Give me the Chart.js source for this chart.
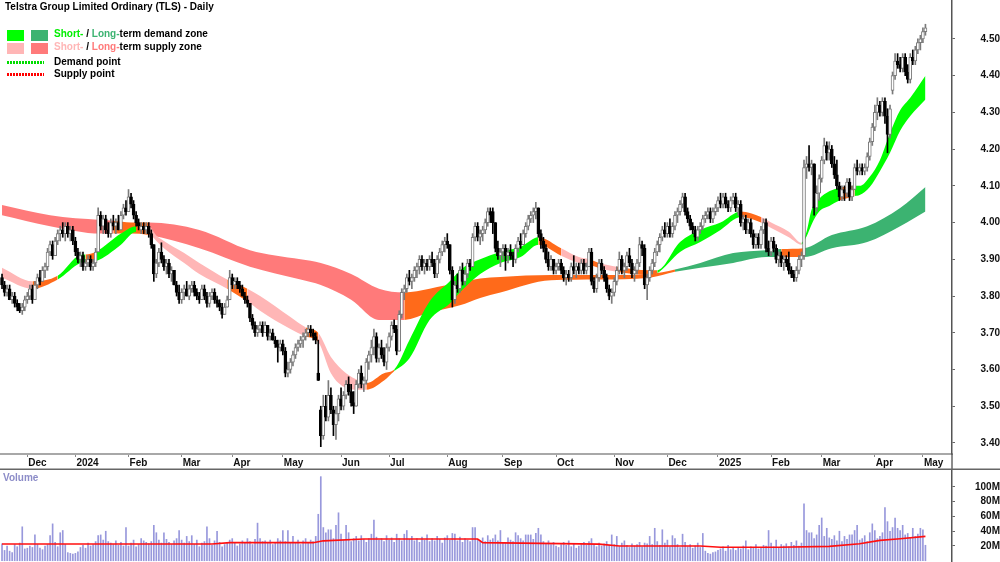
<!DOCTYPE html>
<html><head><meta charset="utf-8">
<script src="https://cdn.jsdelivr.net/npm/chart.js@4.4.1/dist/chart.umd.min.js"></script>
<style>
html,body{margin:0;padding:0;background:#fff;}
#wrap{position:relative;width:1000px;height:562px;overflow:hidden;font-family:"Liberation Sans",Arial,sans-serif;}
#c1{position:absolute;left:0;top:0;}
#c2{position:absolute;left:0;top:470px;}
.t{position:absolute;font-weight:bold;font-size:10px;line-height:12px;white-space:nowrap;color:#000;}
.sw{position:absolute;width:17px;height:11px;}
.dot{position:absolute;width:37px;height:3px;}
</style></head>
<body>
<div id="wrap">
<canvas id="c1" width="1000" height="470"></canvas>
<canvas id="c2" width="1000" height="92"></canvas>
<div class="t" style="left:5px;top:1px;">Telstra Group Limited Ordinary (TLS) - Daily</div>
<div class="sw" style="left:7px;top:30px;background:#00ff00;"></div>
<div class="sw" style="left:31px;top:30px;background:#3cb371;"></div>
<div class="t" style="left:54px;top:28px;"><span style="color:#00ee00">Short-</span> / <span style="color:#3cb371">Long-</span>term demand zone</div>
<div class="sw" style="left:7px;top:43px;background:#ffb6b6;"></div>
<div class="sw" style="left:31px;top:43px;background:#ff7a7a;"></div>
<div class="t" style="left:54px;top:41px;"><span style="color:#ffb6b6">Short-</span> / <span style="color:#ff7a7a">Long-</span>term supply zone</div>
<div class="dot" style="left:7px;top:61px;background:repeating-linear-gradient(90deg,#00dd00 0 2px,transparent 2px 3px);"></div>
<div class="t" style="left:54px;top:56px;">Demand point</div>
<div class="dot" style="left:7px;top:73px;background:repeating-linear-gradient(90deg,#ff0000 0 2px,transparent 2px 3px);"></div>
<div class="t" style="left:54px;top:68px;">Supply point</div>
<div class="t" style="left:3px;top:472px;color:#8c8cc8;">Volume</div>
</div>
<script>
// ---------- data ----------
const monthIdx = [10,29,50,71,91,111,134,153,176,198,219,242,263,283,304,324,345,364];
const monthLbl = ['Dec','2024','Feb','Mar','Apr','May','Jun','Jul','Aug','Sep','Oct','Nov','Dec','2025','Feb','Mar','Apr','May'];
const priceTicks = [3.4,3.5,3.6,3.7,3.8,3.9,4.0,4.1,4.2,4.3,4.4,4.5];
const volTicks = [20,40,60,80,100];

const opens = [
3.85,3.83,3.81,3.82,3.79,3.80,3.78,3.77,3.76,3.77, 3.79,3.80,3.82,3.79,3.83,3.85,3.84,3.87,3.88,3.92,
3.94,3.91,3.95,3.97,3.98,3.97,3.99,3.97,3.98,3.95, 3.92,3.90,3.91,3.88,3.89,3.90,3.88,3.89,3.92,4.02,
3.99,4.01,3.98,3.97,4.00,3.99,4.00,3.98,4.02,4.04, 4.03,4.07,4.05,4.02,4.00,3.98,3.99,3.98,3.99,3.97,
3.94,3.86,3.89,3.92,3.90,3.88,3.89,3.86,3.87,3.83, 3.81,3.79,3.81,3.82,3.80,3.82,3.83,3.81,3.80,3.79,
3.82,3.80,3.78,3.80,3.81,3.79,3.78,3.77,3.75,3.77, 3.79,3.85,3.83,3.84,3.83,3.82,3.80,3.79,3.78,3.74,
3.72,3.70,3.71,3.72,3.70,3.72,3.69,3.70,3.68,3.67, 3.66,3.67,3.65,3.59,3.60,3.62,3.64,3.66,3.67,3.68,
3.69,3.70,3.71,3.70,3.69,3.59,3.49,3.42,3.50,3.47, 3.53,3.49,3.45,3.48,3.52,3.50,3.53,3.56,3.54,3.51,
3.50,3.56,3.59,3.56,3.57,3.62,3.64,3.66,3.69,3.63, 3.66,3.64,3.62,3.66,3.69,3.72,3.71,3.65,3.75,3.81,
3.82,3.85,3.84,3.85,3.87,3.88,3.90,3.88,3.89,3.88, 3.90,3.89,3.86,3.90,3.92,3.94,3.95,3.94,3.87,3.79,
3.83,3.82,3.87,3.84,3.86,3.89,3.88,3.96,3.99,3.96, 3.97,3.98,4.00,4.03,4.03,4.00,3.93,3.91,3.92,3.93,
3.91,3.92,3.91,3.90,3.93,3.95,3.94,3.97,3.99,4.01, 4.02,4.03,4.04,3.97,3.95,3.93,3.90,3.88,3.90,3.87,
3.88,3.89,3.87,3.85,3.86,3.85,3.88,3.87,3.88,3.87, 3.89,3.87,3.88,3.92,3.84,3.82,3.85,3.89,3.87,3.85,
3.82,3.80,3.81,3.84,3.87,3.90,3.87,3.88,3.91,3.89, 3.86,3.87,3.89,3.94,3.93,3.83,3.85,3.87,3.89,3.92,
3.94,3.96,3.98,3.97,3.99,3.97,3.99,4.02,4.03,4.05, 4.07,4.03,4.01,3.99,3.98,3.96,3.98,3.99,4.01,4.02,
4.03,4.01,4.03,4.04,4.06,4.05,4.07,4.05,4.04,4.06, 4.07,4.04,4.05,4.00,4.01,3.98,4.00,3.97,3.94,3.96,
3.94,3.98,4.00,3.93,3.92,3.95,3.93,3.90,3.91,3.89, 3.90,3.89,3.87,3.86,3.85,3.87,3.90,3.91,4.15,4.16,
4.15,4.16,4.04,4.08,4.12,4.17,4.21,4.19,4.20,4.16, 4.13,4.10,4.07,4.09,4.08,4.11,4.07,4.09,4.15,4.14,
4.15,4.14,4.15,4.18,4.22,4.26,4.30,4.32,4.30,4.33, 4.29,4.24,4.36,4.40,4.44,4.43,4.42,4.45,4.41,4.39,
4.45,4.44,4.47,4.49,4.50,4.52];
const highs = [
3.86,3.84,3.83,3.83,3.81,3.81,3.79,3.78,3.78,3.80, 3.81,3.83,3.83,3.84,3.86,3.87,3.88,3.89,3.93,3.95,
3.95,3.96,3.98,3.99,4.00,4.00,4.00,3.99,3.99,3.96, 3.93,3.92,3.92,3.90,3.91,3.91,3.90,3.93,4.04,4.03,
4.02,4.02,4.00,4.01,4.02,4.01,4.02,4.03,4.05,4.06, 4.09,4.08,4.06,4.03,4.01,4.00,4.00,4.00,4.00,3.98,
3.94,3.90,3.93,3.945,3.91,3.90,3.90,3.88,3.87,3.84, 3.83,3.82,3.83,3.84,3.83,3.84,3.84,3.82,3.81,3.83,
3.83,3.81,3.81,3.82,3.82,3.80,3.79,3.78,3.78,3.80, 3.87,3.86,3.85,3.85,3.84,3.83,3.81,3.80,3.78,3.75,
3.73,3.72,3.73,3.73,3.73,3.72,3.71,3.71,3.69,3.68, 3.68,3.68,3.66,3.62,3.63,3.65,3.67,3.68,3.69,3.70,
3.71,3.72,3.72,3.71,3.70,3.68,3.50,3.53,3.53,3.57, 3.55,3.50,3.50,3.53,3.55,3.54,3.57,3.58,3.56,3.54,
3.57,3.60,3.61,3.58,3.63,3.65,3.68,3.71,3.70,3.67, 3.68,3.66,3.67,3.70,3.73,3.735,3.72,3.76,3.82,3.83,
3.86,3.87,3.86,3.88,3.89,3.91,3.91,3.90,3.90,3.91, 3.92,3.90,3.91,3.93,3.95,3.96,3.97,3.94,3.88,3.84,
3.86,3.88,3.89,3.87,3.90,3.90,3.97,4.00,4.00,3.98, 3.99,4.01,4.04,4.04,4.04,4.00,3.95,3.93,3.94,3.94,
3.93,3.94,3.92,3.94,3.96,3.97,3.98,4.00,4.02,4.03, 4.04,4.055,4.04,3.98,3.96,3.94,3.92,3.91,3.90,3.89,
3.90,3.90,3.88,3.87,3.87,3.89,3.91,3.89,3.89,3.90, 3.90,3.89,3.93,3.93,3.85,3.86,3.90,3.90,3.88,3.86,
3.83,3.82,3.85,3.88,3.92,3.91,3.89,3.92,3.93,3.90, 3.88,3.90,3.96,3.95,3.94,3.86,3.88,3.90,3.93,3.95,
3.97,3.99,4.00,4.00,4.01,4.00,4.03,4.04,4.06,4.08, 4.08,4.04,4.02,4.00,3.99,3.99,4.00,4.02,4.03,4.04,
4.04,4.04,4.05,4.07,4.08,4.08,4.08,4.06,4.07,4.08, 4.08,4.06,4.06,4.02,4.02,4.01,4.01,3.98,3.97,3.97,
3.99,4.01,4.01,3.95,3.96,3.96,3.94,3.92,3.92,3.91, 3.91,3.92,3.88,3.87,3.88,3.91,3.92,4.17,4.18,4.21,
4.17,4.16,4.10,4.13,4.18,4.23,4.22,4.22,4.21,4.18, 4.17,4.11,4.10,4.10,4.12,4.12,4.10,4.16,4.17,4.16,
4.16,4.16,4.19,4.23,4.27,4.32,4.34,4.33,4.34,4.34, 4.31,4.32,4.41,4.46,4.46,4.45,4.46,4.46,4.43,4.46,
4.47,4.48,4.50,4.51,4.53,4.54];
const lows = [
3.82,3.80,3.80,3.79,3.78,3.77,3.76,3.755,3.75,3.76, 3.78,3.79,3.78,3.79,3.82,3.83,3.84,3.85,3.87,3.91,
3.90,3.91,3.94,3.95,3.96,3.95,3.96,3.95,3.94,3.91, 3.89,3.88,3.87,3.87,3.88,3.87,3.87,3.88,3.92,3.98,
3.97,3.97,3.96,3.96,3.98,3.97,3.98,3.98,4.01,4.02, 4.03,4.04,4.01,3.99,3.98,3.97,3.97,3.97,3.96,3.93,
3.84,3.85,3.88,3.89,3.87,3.86,3.85,3.84,3.83,3.80, 3.78,3.78,3.79,3.80,3.79,3.81,3.80,3.79,3.78,3.79,
3.79,3.77,3.77,3.79,3.78,3.77,3.76,3.74,3.75,3.77, 3.79,3.82,3.82,3.82,3.81,3.80,3.78,3.77,3.73,3.71,
3.69,3.69,3.70,3.69,3.70,3.68,3.68,3.68,3.66,3.62, 3.65,3.64,3.58,3.58,3.59,3.61,3.63,3.65,3.66,3.66,
3.68,3.69,3.69,3.68,3.67,3.57,3.39,3.41,3.46,3.46, 3.48,3.42,3.41,3.46,3.49,3.49,3.52,3.53,3.50,3.48,
3.50,3.55,3.55,3.54,3.56,3.60,3.62,3.64,3.62,3.62, 3.63,3.61,3.60,3.65,3.68,3.70,3.64,3.65,3.74,3.79,
3.81,3.83,3.82,3.84,3.85,3.86,3.87,3.86,3.87,3.87, 3.88,3.85,3.85,3.89,3.91,3.92,3.93,3.86,3.77,3.78,
3.81,3.81,3.83,3.83,3.85,3.87,3.88,3.95,3.95,3.94, 3.95,3.97,3.99,4.00,3.97,3.92,3.90,3.88,3.90,3.87,
3.89,3.90,3.88,3.89,3.92,3.93,3.94,3.96,3.98,4.00, 4.00,4.01,3.96,3.93,3.92,3.89,3.87,3.87,3.86,3.86,
3.87,3.86,3.84,3.83,3.84,3.84,3.86,3.85,3.86,3.86, 3.86,3.86,3.88,3.83,3.81,3.81,3.84,3.86,3.84,3.81,
3.79,3.78,3.80,3.83,3.86,3.86,3.85,3.87,3.88,3.85, 3.84,3.86,3.88,3.91,3.82,3.79,3.84,3.86,3.88,3.91,
3.92,3.95,3.96,3.96,3.96,3.96,3.98,4.00,4.02,4.04, 4.02,4.00,3.98,3.97,3.95,3.95,3.97,3.98,4.00,4.01,
4.00,4.00,4.02,4.03,4.04,4.04,4.04,4.03,4.03,4.05, 4.03,4.02,3.99,3.98,3.97,3.97,3.96,3.93,3.93,3.93,
3.93,3.97,3.92,3.91,3.91,3.92,3.89,3.88,3.88,3.87, 3.88,3.86,3.85,3.84,3.84,3.86,3.88,3.90,4.12,4.14,
4.13,4.02,4.03,4.06,4.11,4.16,4.17,4.17,4.15,4.12, 4.09,4.06,4.06,4.06,4.07,4.06,4.06,4.09,4.13,4.13,
4.13,4.13,4.14,4.17,4.21,4.25,4.28,4.29,4.29,4.27, 4.19,4.23,4.35,4.39,4.42,4.41,4.41,4.40,4.38,4.38,
4.43,4.43,4.46,4.47,4.49,4.51];
const closes = [
3.83,3.81,3.82,3.79,3.80,3.78,3.77,3.76,3.77,3.79, 3.80,3.82,3.79,3.83,3.85,3.84,3.87,3.88,3.92,3.94,
3.91,3.95,3.97,3.98,3.97,3.99,3.97,3.98,3.95,3.92, 3.90,3.91,3.88,3.89,3.90,3.88,3.89,3.92,4.02,3.99,
4.01,3.98,3.97,4.00,3.99,4.00,3.98,4.02,4.04,4.03, 4.07,4.05,4.02,4.00,3.99,3.99,3.98,3.99,3.97,3.94,
3.86,3.89,3.92,3.90,3.88,3.89,3.86,3.87,3.83,3.81, 3.79,3.81,3.82,3.80,3.82,3.83,3.81,3.80,3.79,3.82,
3.80,3.78,3.80,3.81,3.79,3.78,3.77,3.75,3.77,3.79, 3.85,3.83,3.84,3.83,3.82,3.80,3.79,3.78,3.74,3.72,
3.70,3.71,3.72,3.70,3.72,3.69,3.70,3.68,3.67,3.66, 3.67,3.65,3.59,3.60,3.62,3.64,3.66,3.67,3.68,3.69,
3.70,3.71,3.70,3.69,3.68,3.57,3.42,3.50,3.47,3.53, 3.49,3.45,3.48,3.52,3.50,3.53,3.56,3.54,3.51,3.50,
3.56,3.59,3.56,3.57,3.62,3.64,3.66,3.69,3.63,3.66, 3.64,3.62,3.66,3.69,3.72,3.71,3.65,3.75,3.81,3.82,
3.85,3.84,3.85,3.87,3.88,3.90,3.88,3.89,3.88,3.90, 3.89,3.86,3.90,3.92,3.94,3.95,3.94,3.87,3.79,3.83,
3.82,3.87,3.84,3.86,3.89,3.88,3.96,3.99,3.96,3.97, 3.98,4.00,4.03,4.02,4.00,3.93,3.91,3.92,3.93,3.91,
3.92,3.91,3.90,3.93,3.95,3.94,3.97,3.99,4.01,4.02, 4.03,4.04,3.97,3.95,3.93,3.90,3.88,3.90,3.87,3.88,
3.89,3.87,3.85,3.86,3.85,3.88,3.87,3.88,3.87,3.89, 3.87,3.88,3.92,3.84,3.82,3.85,3.89,3.87,3.85,3.82,
3.80,3.81,3.84,3.87,3.90,3.87,3.88,3.91,3.89,3.86, 3.87,3.89,3.94,3.93,3.83,3.85,3.87,3.89,3.92,3.94,
3.96,3.98,3.97,3.99,3.97,3.99,4.02,4.03,4.05,4.07, 4.03,4.01,3.99,3.98,3.96,3.98,3.99,4.01,4.02,4.03,
4.01,4.03,4.04,4.06,4.05,4.07,4.05,4.04,4.06,4.07, 4.04,4.05,4.00,4.01,3.98,4.00,3.97,3.94,3.96,3.94,
3.98,4.00,3.93,3.92,3.95,3.93,3.90,3.91,3.89,3.90, 3.89,3.87,3.86,3.85,3.87,3.90,3.91,4.15,4.16,4.15,
4.16,4.04,4.08,4.12,4.17,4.21,4.19,4.20,4.16,4.13, 4.10,4.07,4.09,4.08,4.11,4.07,4.09,4.15,4.14,4.15,
4.14,4.15,4.18,4.22,4.26,4.30,4.32,4.30,4.33,4.29, 4.24,4.31,4.40,4.44,4.43,4.42,4.45,4.41,4.39,4.45,
4.44,4.47,4.49,4.50,4.52,4.53];
const volumes = [
23,14,20,13,11,22,19,24,46,16, 17,20,18,35,22,17,15,20,22,34,
50,25,19,38,41,22,11,10,9,10, 12,18,21,17,24,20,22,26,34,35,
28,40,26,24,22,27,21,25,20,45, 20,24,28,19,22,30,27,25,23,26,
48,38,28,24,38,29,25,22,27,30, 41,28,24,33,26,34,22,28,19,24,
26,46,30,21,27,40,25,19,22,24, 28,30,25,20,23,27,24,30,26,22,
29,51,30,26,27,24,28,22,25,30, 27,41,26,41,24,33,25,28,22,27,
30,24,28,26,33,63,114,45,38,42, 42,30,48,65,36,28,48,38,26,30,
33,27,34,29,25,30,36,55,32,28, 30,26,34,28,31,25,36,30,27,36,
41,29,33,27,30,25,32,28,35,26, 30,27,33,29,24,31,34,28,37,36,
27,32,25,30,28,26,45,45,29,27, 31,26,34,28,30,35,27,41,24,25,
31,28,26,38,34,30,27,35,35,35, 29,37,44,35,26,23,27,22,25,20,
18,22,25,21,27,19,23,17,20,22, 25,21,26,30,22,19,24,20,23,26,
21,35,22,33,19,24,27,21,18,23, 20,22,25,19,24,23,33,22,44,26,
21,42,24,28,19,34,30,22,18,36, 25,19,22,17,20,24,18,37,13,10,
9,11,12,14,16,19,13,21,15,17, 14,18,16,20,27,15,19,17,22,16,
18,21,20,41,24,19,28,17,22,20, 23,19,25,21,27,20,24,77,41,38,
38,30,35,48,58,33,44,31,29,34, 27,40,26,33,29,35,35,41,48,28,
30,34,26,38,50,41,30,33,38,72, 53,40,45,58,44,41,48,35,37,31,
44,33,36,44,42,21];
const volMaX = [0,83,90,123,127,143,188,190,236,244,276,284,307,327,339,347,355,365];
const volMaY = [22.7,22.7,24.5,24.5,27,29.5,29.5,24.5,22.5,20,20,18.3,18.3,19.5,23,27.6,29.8,33];

// short-term zone (top / bottom edges), zone state of the segment starting at each point
const shortX   = [0,12,22,31,33,37,47,53,58,61,64,72,78,89,97,102,114,120,125,130,136,141,144,151,155,161,169,177,182,189,197,205,212,221,228,232,236,243,256,259,268,276,284,292,300,304,311,316,318,320,323,327,331,337,339,343,347,351,355,359,365];
const shortTop = [3.877,3.840,3.855,3.912,3.913,3.920,3.970,3.990,3.990,3.965,3.950,3.917,3.890,3.845,3.820,3.800,3.743,3.715,3.700,3.634,3.590,3.570,3.563,3.590,3.600,3.680,3.785,3.840,3.876,3.900,3.920,3.934,3.960,3.930,3.906,3.900,3.890,3.880,3.870,3.870,3.947,3.980,4.000,4.030,4.015,4.000,3.975,3.945,3.975,4.035,4.065,4.085,4.094,4.100,4.100,4.125,4.170,4.244,4.306,4.340,4.400];
const shortBot = [3.850,3.820,3.845,3.890,3.892,3.895,3.940,3.975,3.970,3.950,3.930,3.890,3.860,3.820,3.785,3.760,3.710,3.690,3.675,3.590,3.550,3.545,3.545,3.570,3.595,3.630,3.735,3.780,3.817,3.860,3.890,3.906,3.940,3.910,3.890,3.885,3.876,3.866,3.857,3.862,3.920,3.947,3.980,4.015,4.000,3.985,3.960,3.940,3.962,3.995,4.030,4.045,4.060,4.072,4.075,4.097,4.140,4.190,4.250,4.290,4.335];
const shortZone= ['S','X','D','D','X','D','D','X','S','S','S','S','S','X','S','S','S','X','S','S','S','S','X','X','D','D','D','D','D','D','D','D','X','S','S','X','S','X','X','D','D','D','D','X','S','S','S','D','D','D','D','D','X','D','D','D','D','D','D','D','D'];

// long-term zone
const longX   = [0,19,39,44,51,58,78,98,118,126,138,149,159,169,181,189,197,217,236,256,266,276,289,302,308,317,328,342,355,365];
const longTop = [4.048,4.020,4.007,4.005,4.000,4.000,3.980,3.925,3.900,3.890,3.860,3.820,3.810,3.820,3.838,3.848,3.852,3.857,3.857,3.860,3.872,3.890,3.917,3.925,3.928,3.930,3.966,3.990,4.040,4.097];
const longBot = [4.020,3.990,3.970,3.970,3.970,3.966,3.930,3.880,3.845,3.830,3.790,3.735,3.735,3.755,3.775,3.795,3.810,3.843,3.845,3.850,3.866,3.877,3.890,3.906,3.906,3.906,3.930,3.947,3.990,4.030];
const longZone= ['S','S','S','X','X','S','S','S','S','S','S','S','X','X','X','X','X','X','X','X','D','D','D','D','X','D','D','D','D','D'];

// ---------- styles ----------
const FONT = '"Liberation Sans", Arial, sans-serif';
Chart.defaults.font.family = FONT;
const shortColors = {D:'#00ff00', S:'#ffb6b6', X:'#ff6a1a'};
const longColors  = {D:'#3cb371', S:'#ff7a7a', X:'#ff6a1a'};
const UP_LINE = '#7a7a7a';
const axisFont = {family: FONT, size: 10, weight: 'bold'};

const pts = (xs, ys) => xs.map((x, k) => ({x, y: ys[k]}));
const bandBase = {type:'line', pointRadius:0, borderWidth:0, borderColor:'rgba(0,0,0,0)', cubicInterpolationMode:'monotone'};

const isUp = opens.map((o, i) => closes[i] >= o);
const wickData = lows.map((l, i) => ({x:i, y:[l, highs[i]]}));
const bodyData = opens.map((o, i) => ({x:i, y:[Math.min(o, closes[i]), Math.max(o, closes[i])]}));

const X_MIN = -0.8, X_MAX = 375.5;

const framePlugin = {
  id:'frame',
  afterDraw(chart){
    const c = chart.ctx;
    c.save();
    c.strokeStyle = '#666'; c.lineWidth = 1.5;
    c.beginPath(); c.moveTo(0, 469.25); c.lineTo(1000, 469.25); c.stroke();
    c.beginPath(); c.moveTo(chart.chartArea.right, chart.chartArea.bottom); c.lineTo(chart.chartArea.right, 470); c.stroke();
    c.restore();
  }
};

new Chart(document.getElementById('c1'), {
  type:'bar',
  data:{datasets:[
    Object.assign({}, bandBase, {data: pts(longX, longTop), fill:false, order:5}),
    Object.assign({}, bandBase, {data: pts(longX, longBot), fill:'-1', backgroundColor:longColors.S, order:5,
      segment:{backgroundColor: ctx => longColors[longZone[ctx.p0DataIndex]]}}),
    Object.assign({}, bandBase, {data: pts(shortX, shortTop), fill:false, order:4}),
    Object.assign({}, bandBase, {data: pts(shortX, shortBot), fill:'-1', backgroundColor:shortColors.S, order:4,
      segment:{backgroundColor: ctx => shortColors[shortZone[ctx.p0DataIndex]]}}),
    {type:'bar', data: wickData, barThickness:1, grouped:false, order:2,
      backgroundColor: isUp.map(u => u ? UP_LINE : '#000'), borderWidth:0},
    {type:'bar', data: bodyData, barThickness:3, grouped:false, order:1, borderSkipped:false, borderWidth:1,
      backgroundColor: isUp.map(u => u ? '#ffffff' : '#000'), borderColor: isUp.map(u => u ? UP_LINE : '#000')}
  ]},
  options:{
    responsive:false, animation:false, events:[],
    layout:{padding:0},
    plugins:{legend:{display:false}, tooltip:{enabled:false}},
    scales:{
      x:{type:'linear', min:X_MIN, max:X_MAX, offset:false, position:'bottom',
        afterBuildTicks: s => { s.ticks = monthIdx.map(v => ({value:v})); },
        afterFit: s => { s.height = 16; s.paddingLeft = 0; s.paddingRight = 0; },
        ticks:{autoSkip:false, maxRotation:0, minRotation:0, align:'start', labelOffset:1, padding:0, color:'#111', font:axisFont,
          callback:(v, i) => monthLbl[i]},
        grid:{drawOnChartArea:false, drawTicks:true, tickLength:3, color:'#888', offset:false},
        border:{display:true, color:'#a8a8a8', width:2}
      },
      y:{type:'linear', position:'right', min:3.370, max:4.606,
        afterBuildTicks: s => { s.ticks = priceTicks.map(v => ({value:v})); },
        afterFit: s => { s.width = 48; s.paddingTop = 0; s.paddingBottom = 0; },
        ticks:{crossAlign:'far', padding:22, color:'#111', font:axisFont, callback: v => Number(v).toFixed(2)},
        grid:{drawOnChartArea:false, drawTicks:true, tickLength:3, color:'#666'},
        border:{display:true, color:'#555', width:1.5}
      }
    }
  },
  plugins:[framePlugin]
});

new Chart(document.getElementById('c2'), {
  type:'bar',
  data:{datasets:[
    {type:'bar', data: volumes.map((v, i) => ({x:i, y:v})), barThickness:1, grouped:false, order:2,
      backgroundColor:'#9898dc', borderWidth:0},
    {type:'line', data: pts(volMaX, volMaY), borderColor:'#ff1010', borderWidth:1.6, pointRadius:0, fill:false, order:1}
  ]},
  options:{
    responsive:false, animation:false, events:[],
    layout:{padding:0},
    plugins:{legend:{display:false}, tooltip:{enabled:false}},
    scales:{
      x:{type:'linear', min:X_MIN, max:X_MAX, offset:false, display:false},
      y:{type:'linear', position:'right', min:-1.7, max:123,
        afterBuildTicks: s => { s.ticks = volTicks.map(v => ({value:v})); },
        afterFit: s => { s.width = 48; s.paddingTop = 0; s.paddingBottom = 0; },
        ticks:{crossAlign:'far', padding:17, color:'#111', font:axisFont, callback: v => v + 'M'},
        grid:{drawOnChartArea:false, drawTicks:true, tickLength:3, color:'#666'},
        border:{display:true, color:'#555', width:1.5}
      }
    }
  }
});
</script>
</body></html>
